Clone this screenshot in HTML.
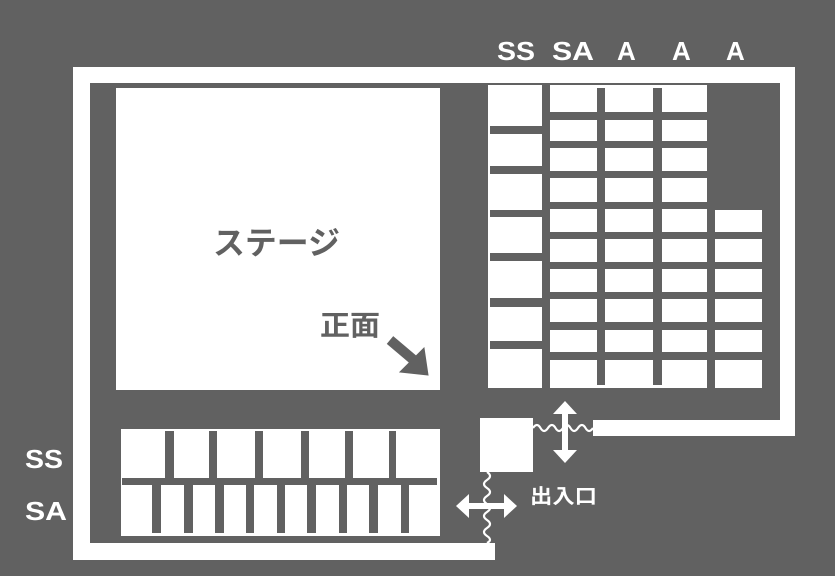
<!DOCTYPE html>
<html><head><meta charset="utf-8"><style>
html,body{margin:0;padding:0;background:#616161;}
svg{display:block}
text{font-family:"Liberation Sans","Noto Sans CJK JP",sans-serif;font-weight:bold;fill:#fff}
</style></head><body>
<svg width="835" height="576" viewBox="0 0 835 576" xmlns="http://www.w3.org/2000/svg">
<rect width="835" height="576" fill="#616161"/>
<g fill="#fff">
<rect x="73" y="67" width="722" height="16"/>
<rect x="73" y="67" width="17" height="493"/>
<rect x="73" y="543" width="422" height="17"/>
<rect x="780" y="67" width="15" height="369"/>
<rect x="593" y="420" width="202" height="16"/>
<rect x="116" y="88" width="324" height="302"/>
<rect x="488" y="85" width="54" height="303"/>
<rect x="550" y="85" width="157" height="303"/>
<rect x="715" y="210" width="47" height="178"/>
<rect x="121" y="429" width="319" height="107"/>
<rect x="480" y="418" width="53" height="54"/>
</g>
<g fill="#616161">
<rect x="542" y="88" width="8" height="297"/>
<rect x="597" y="88" width="8" height="297"/>
<rect x="653" y="88" width="9" height="297"/>
<rect x="707" y="210" width="8" height="175"/>
<rect x="550" y="112" width="157" height="8"/>
<rect x="550" y="141" width="157" height="7"/>
<rect x="550" y="171" width="157" height="7"/>
<rect x="550" y="202" width="157" height="7"/>
<rect x="550" y="232" width="212" height="7"/>
<rect x="550" y="262" width="212" height="7"/>
<rect x="550" y="292" width="212" height="7"/>
<rect x="550" y="322" width="212" height="8"/>
<rect x="550" y="352" width="212" height="8"/>
<rect x="490" y="126" width="52" height="8"/>
<rect x="490" y="166" width="52" height="8"/>
<rect x="490" y="210" width="52" height="7"/>
<rect x="490" y="253" width="52" height="8"/>
<rect x="490" y="298" width="52" height="9"/>
<rect x="490" y="341" width="52" height="8"/>
<rect x="122" y="478" width="315" height="7"/>
<rect x="165" y="431" width="9" height="47"/>
<rect x="209" y="431" width="8" height="47"/>
<rect x="255" y="431" width="8" height="47"/>
<rect x="301" y="431" width="8" height="47"/>
<rect x="345" y="431" width="8" height="47"/>
<rect x="389" y="431" width="7" height="47"/>
<rect x="152" y="485" width="9" height="48"/>
<rect x="184" y="485" width="9" height="48"/>
<rect x="215" y="485" width="9" height="48"/>
<rect x="246" y="485" width="8" height="48"/>
<rect x="277" y="485" width="8" height="48"/>
<rect x="307" y="485" width="9" height="48"/>
<rect x="339" y="485" width="8" height="48"/>
<rect x="369" y="485" width="9" height="48"/>
<rect x="401" y="485" width="8" height="48"/>
</g>
<text x="213" y="254" font-size="32" style="fill:#616161" textLength="127" lengthAdjust="spacingAndGlyphs">ステージ</text>
<text x="320" y="335" font-size="28" style="fill:#616161" textLength="60" lengthAdjust="spacingAndGlyphs">正面</text>
<g fill="#616161" stroke="#616161">
<line x1="390" y1="340" x2="416" y2="362" stroke-width="10"/>
<polygon points="428,375 400,372 424,348" stroke-width="1"/>
</g>
<text x="497" y="60" font-size="26" textLength="38" lengthAdjust="spacingAndGlyphs">SS</text>
<text x="552" y="60" font-size="26" textLength="42" lengthAdjust="spacingAndGlyphs">SA</text>
<text x="617" y="60" font-size="26">A</text>
<text x="672" y="60" font-size="26">A</text>
<text x="726" y="60" font-size="26">A</text>
<text x="25" y="468" font-size="26" textLength="38" lengthAdjust="spacingAndGlyphs">SS</text>
<text x="25" y="520" font-size="26" textLength="42" lengthAdjust="spacingAndGlyphs">SA</text>
<text x="530" y="503" font-size="20" textLength="67" lengthAdjust="spacingAndGlyphs">出入口</text>
<g fill="none" stroke="#fff" stroke-width="2.2">
<path d="M533,428 q4,-6 7.5,0 t7.5,0 t7.5,0 t7.5,0 t7.5,0 t7.5,0 t7.5,0 t7.5,0"/>
<path d="M487,472 q6,4 0,8 t0,8 t0,8 t0,8 t0,8 t0,8 t0,8 t0,8 t0,7"/>
</g>
<g fill="#fff">
<rect x="562" y="410" width="6" height="44"/>
<polygon points="565,401 553,414 577,414"/>
<polygon points="565,463 553,450 577,450"/>
<rect x="465" y="503" width="43" height="6"/>
<polygon points="456,506 469,494 469,518"/>
<polygon points="517,506 504,494 504,518"/>
</g>
</svg>
</body></html>
